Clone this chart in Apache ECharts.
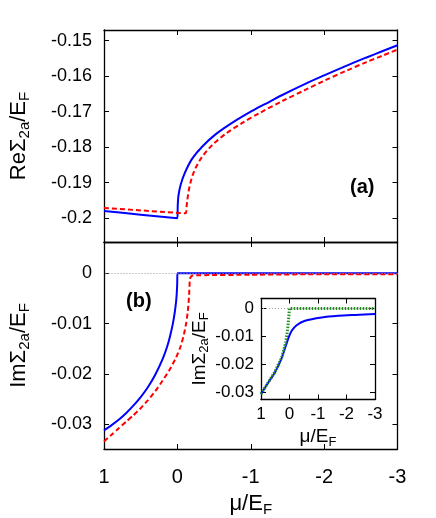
<!DOCTYPE html>
<html>
<head>
<meta charset="utf-8">
<script src="https://cdn.jsdelivr.net/npm/echarts@6/dist/echarts.min.js"></script>
<style>
html, body { margin: 0; padding: 0; background: #fff; }
#main { width: 436px; height: 518px; }
</style>
</head>
<body>
<div id="main"></div>
<script>
// panel (a): Re Sigma_2a / E_F
var muReBlue = [1, 0.5, 0, -0.005, -0.015, -0.045, -0.1, -0.2, -0.34, -0.52, -0.75, -1, -1.2, -1.43, -1.75, -2, -2.3, -2.57, -2.8, -3];
var reBlue = [-0.198, -0.199, -0.2, -0.1964, -0.1936, -0.1906, -0.1873, -0.1833, -0.1798, -0.1764, -0.1731, -0.17, -0.1678, -0.1653, -0.1621, -0.1598, -0.1571, -0.1548, -0.1529, -0.1513];
var muReRed = [1, 0.5, 0, -0.113, -0.125, -0.136, -0.155, -0.18, -0.21, -0.25, -0.3, -0.34, -0.48, -0.66, -0.89, -1.11, -1.43, -1.75, -2, -2.3, -2.57, -2.8, -3];
var reRed = [-0.1971, -0.1978, -0.1985, -0.1986, -0.1968, -0.1948, -0.1922, -0.1899, -0.1878, -0.1858, -0.1839, -0.1826, -0.1793, -0.1762, -0.1731, -0.1705, -0.167, -0.1638, -0.1613, -0.1585, -0.1561, -0.1542, -0.1525];

// panel (b): Im Sigma_2a / E_F
var muImBlue = [1, 0.9, 0.8, 0.7, 0.6, 0.5, 0.4, 0.3, 0.2, 0.14, 0.1, 0.06, 0.035, 0.018, 0.008, 0.002, 0, -1, -2, -3];
var imBlue = [-0.0312, -0.0302, -0.0291, -0.0278, -0.0263, -0.0246, -0.0226, -0.0201, -0.017, -0.0146, -0.0125, -0.0099, -0.0077, -0.0057, -0.0039, -0.002, 0, 0, 0, 0];
var muImRed = [1, 0.9, 0.8, 0.7, 0.6, 0.5, 0.4, 0.3, 0.2, 0.1, 0.02, -0.045, -0.09, -0.12, -0.14, -0.152, -0.16, -0.165, -0.17, -0.18, -0.2, -0.3, -1, -2, -3];
var imRed = [-0.0334, -0.0321, -0.0308, -0.0295, -0.0282, -0.0268, -0.0252, -0.0234, -0.0213, -0.019, -0.0168, -0.0145, -0.0121, -0.0099, -0.0078, -0.006, -0.0042, -0.0026, -0.0014, -0.0008, -0.0005, -0.0004, -0.0003, -0.0002, -0.0002];

// inset
var muInGreen = [1, 0.744, 0.509, 0.274, 0.133, 0.063, 0.007, 0, -3];
var inGreen = [-0.0307, -0.0265, -0.0227, -0.0176, -0.0122, -0.0074, -0.0008, 0, 0];
var muInBlue = [1, 0.744, 0.509, 0.274, 0.18, 0.042, -0.077, -0.25, -0.544, -1.13, -1.71, -2.3, -3];
var inBlue = [-0.0307, -0.0266, -0.0229, -0.0178, -0.015, -0.0107, -0.008, -0.006, -0.0044, -0.0032, -0.0026, -0.0023, -0.002];

// tick labels
var reTicks = [-0.2, -0.19, -0.18, -0.17, -0.16, -0.15];
var imTicks = [-0.03, -0.02, -0.01, 0];
var inTicks = [-0.03, -0.02, -0.01, 0];

var FONT = 'Liberation Sans';

function pairs(xs, ys) {
  return xs.map(function (x, i) { return [x, ys[i]]; });
}

function richName(size) {
  return {
    color: '#000', fontFamily: FONT,
    rich: {
      t: { fontFamily: FONT, fontSize: size, color: '#000' },
      s: { fontFamily: FONT, fontSize: Math.round(size * 0.68), color: '#000', padding: [Math.round(size * 0.5), 0, 0, 0] }
    }
  };
}

function xAx(grid, pos, showLabel, fontSize, margin, name, nameGap, nameSize) {
  return {
    type: 'value', gridIndex: grid, position: pos, inverse: true,
    min: -3, max: 1, interval: 1,
    axisLine: { show: true, onZero: false, lineStyle: { color: '#000', width: 1.3 } },
    axisTick: { show: true, inside: true, length: 5, lineStyle: { color: '#000', width: 1 } },
    axisLabel: { show: showLabel, color: '#000', fontFamily: FONT, fontSize: fontSize, margin: margin },
    splitLine: { show: false },
    name: name || '', nameLocation: 'middle', nameGap: nameGap,
    nameTextStyle: richName(nameSize || 20)
  };
}

function yAx(grid, pos, showLabel, min, max, ticks, fontSize, margin, name, nameGap, nameSize) {
  return {
    type: 'value', gridIndex: grid, position: pos,
    min: min, max: max,
    axisLine: { show: true, onZero: false, lineStyle: { color: '#000', width: 1.3 } },
    axisTick: { show: true, inside: true, length: 5, customValues: ticks, lineStyle: { color: '#000', width: 1 } },
    axisLabel: { show: showLabel, customValues: ticks, color: '#000', fontFamily: FONT, fontSize: fontSize, margin: margin },
    splitLine: { show: false },
    name: name || '', nameLocation: 'middle', nameGap: nameGap, nameRotate: 90,
    nameTextStyle: richName(nameSize || 20)
  };
}

function curve(xi, data, color, type, width, z, smooth) {
  return {
    type: 'line', xAxisIndex: xi, yAxisIndex: xi, showSymbol: false, smooth: smooth, z: z,
    data: data, lineStyle: { color: color, width: width, type: type }
  };
}

function zeroLine(xi) {
  return {
    type: 'line', xAxisIndex: xi, yAxisIndex: xi, showSymbol: false, z: 1, data: [],
    markLine: {
      silent: true, symbol: 'none', label: { show: false },
      lineStyle: { color: '#999', width: 1, type: [1, 2] },
      data: [{ yAxis: 0 }]
    }
  };
}

var chart = echarts.init(document.getElementById('main'), null, { renderer: 'canvas' });

chart.setOption({
  backgroundColor: '#fff',
  animation: false,
  grid: [
    { left: 103.5, top: 30, width: 294, height: 212 },
    { left: 103.5, top: 242, width: 294, height: 212 },
    { left: 261, top: 298.5, width: 114, height: 101, show: true, backgroundColor: '#fff', borderWidth: 0 }
  ],
  xAxis: [
    xAx(0, 'bottom', false, 20, 10),
    xAx(0, 'top', false, 20, 10),
    xAx(1, 'bottom', true, 20, 18, '{t|μ/E}{s|F}', 42, 22),
    xAx(1, 'top', false, 20, 10),
    xAx(2, 'bottom', true, 17, 6, '{t|μ/E}{s|F}', 26, 19),
    xAx(2, 'top', false, 17, 6)
  ],
  yAxis: [
    yAx(0, 'left', true, -0.2067, -0.147, reTicks, 18, 12, '{t|ReΣ}{s|2a}{t|/E}{s|F}', 72, 22),
    yAx(0, 'right', false, -0.2067, -0.147, reTicks, 18, 12),
    yAx(1, 'left', true, -0.0349, 0.0062, imTicks, 18, 12, '{t|ImΣ}{s|2a}{t|/E}{s|F}', 72, 22),
    yAx(1, 'right', false, -0.0349, 0.0062, imTicks, 18, 12),
    yAx(2, 'left', true, -0.0327, 0.0036, inTicks, 17, 7, '{t|ImΣ}{s|2a}{t|/E}{s|F}', 50, 19),
    yAx(2, 'right', false, -0.0327, 0.0036, inTicks, 17, 7)
  ],
  graphic: [
    { type: 'text', left: 350, top: 177, style: { text: '(a)', fill: '#000', font: 'bold 20px "Liberation Sans"' } },
    { type: 'text', left: 126, top: 291, style: { text: '(b)', fill: '#000', font: 'bold 20px "Liberation Sans"' } }
  ],
  series: [
    curve(0, pairs(muReBlue, reBlue), '#0000ff', 'solid', 2, 3, 0.3),
    curve(0, pairs(muReRed, reRed), '#ff0000', [5, 3], 2, 4, 0.3),
    zeroLine(2),
    curve(2, pairs(muImBlue, imBlue), '#0000ff', 'solid', 2, 3, 0.2),
    curve(2, pairs(muImRed, imRed), '#ff0000', [5, 3], 2, 4, 0.2),
    zeroLine(4),
    curve(4, pairs(muInBlue, inBlue), '#0000ff', 'solid', 2, 3, 0.25),
    curve(4, pairs(muInGreen, inGreen), '#228b22', [1.5, 1.5], 3, 4, false)
  ]
});
</script>
</body>
</html>
